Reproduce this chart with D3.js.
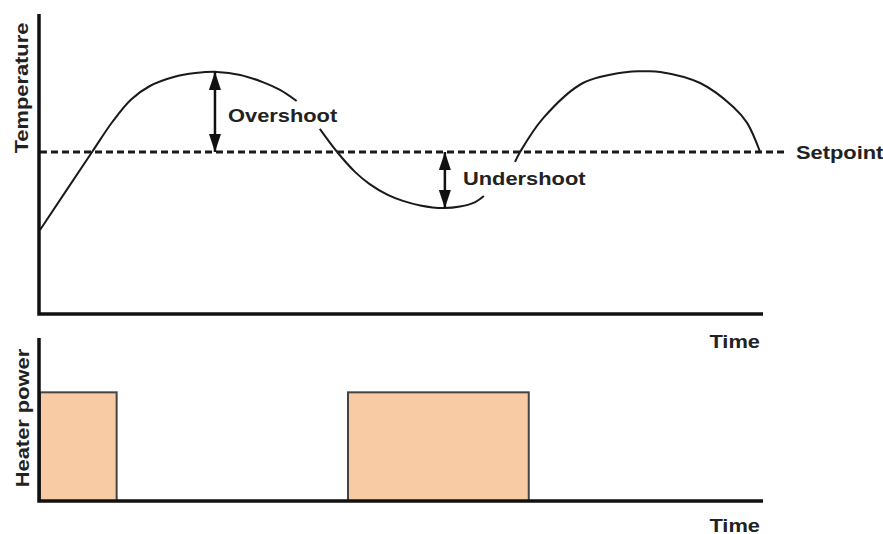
<!DOCTYPE html>
<meta charset="utf-8">
<style>
  body { margin: 0; background: #fff; }
  svg { display: block; }
  .lbl { font-family: "Liberation Sans", Arial, sans-serif; font-weight: bold; font-size: 19px; fill: #222; }
</style>
<body>
<script src="https://cdn.jsdelivr.net/npm/d3@7"></script>
<script>
  'use strict';

  // time in arbitrary units, temperature in % of full scale
  const setpoint = 54;
  const riseTime = [0, 7.2, 10, 12.6, 15.2, 18.5, 21.5, 24.5, 27.7, 30.8, 33.2, 35.5];
  const riseTemp = [28, 54, 64, 71.5, 76, 79, 80.3, 80.7, 79.7, 77.3, 74.7, 71];
  const dipTime = [38.7, 41.1, 43.6, 45.6, 48.1, 50.2, 52.6, 55.7, 58.1, 60.2, 61.4];
  const dipTemp = [61.7, 54, 47.3, 43.3, 39.7, 37.7, 36.2, 35.3, 35.8, 37.3, 39.3];
  const riseTime2 = [65.7, 66.4, 69.6, 75.1, 81.2, 83.5, 85.8, 91.3, 95.9, 97.8, 99.6];
  const riseTemp2 = [50.7, 54, 65.3, 77, 80.7, 80.9, 80.7, 77, 69, 63.7, 54];

  // heater on-intervals and power level
  const heaterOn = [0, 42.6];
  const heaterOff = [10.6, 67.6];
  const heaterPower = [1, 1];

  // annotations: [time, from, to]
  const overshoot = [24.2, setpoint, 80.7];
  const undershoot = [56, setpoint, 35.3];

  const width = 883, height = 534;
  const sx = 1.15; // labels are a little wide in the original

  const svg = d3.select("body").append("svg")
      .attr("width", width).attr("height", height);

  const x = d3.scaleLinear().domain([0, 100]).range([40, 763]);
  const yT = d3.scaleLinear().domain([0, 100]).range([314, 14]);
  const yP = d3.scaleLinear().domain([0, 1.5]).range([501, 338]);

  const defs = svg.append("defs");
  defs.append("marker")
      .attr("id", "head")
      .attr("viewBox", "0 0 18 12")
      .attr("refX", 18).attr("refY", 6)
      .attr("markerWidth", 18).attr("markerHeight", 12)
      .attr("markerUnits", "userSpaceOnUse")
      .attr("orient", "auto-start-reverse")
    .append("path")
      .attr("d", "M0,0L18,6L0,12Z")
      .attr("fill", "#111");

  function label(text, px, py, anchor, rot) {
    svg.append("text")
        .attr("class", "lbl")
        .attr("text-anchor", anchor || "start")
        .attr("transform", `translate(${px},${py})` + (rot ? ` rotate(${rot})` : "") + ` scale(${sx},1)`)
        .text(text);
  }

  // ---- top panel: temperature ----
  const line = d3.line()
      .x((d) => x(d[0]))
      .y((d) => yT(d[1]))
      .curve(d3.curveCatmullRom.alpha(0.5));

  const segs = [
    [riseTime, riseTemp],
    [dipTime, dipTemp],
    [riseTime2, riseTemp2]
  ];

  svg.append("line")
      .attr("x1", x(0)).attr("x2", 787)
      .attr("y1", yT(setpoint)).attr("y2", yT(setpoint))
      .attr("stroke", "#1a1a1a")
      .attr("stroke-width", 3)
      .attr("stroke-dasharray", "7,4");

  svg.selectAll(".temp")
    .data(segs)
    .enter().append("path")
      .attr("class", "temp")
      .attr("d", (s) => line(s[0].map((t, i) => [t, s[1][i]])))
      .attr("fill", "none")
      .attr("stroke", "#1a1a1a")
      .attr("stroke-width", 2);

  svg.selectAll(".arrow")
    .data([overshoot, undershoot])
    .enter().append("line")
      .attr("class", "arrow")
      .attr("x1", (d) => x(d[0])).attr("x2", (d) => x(d[0]))
      .attr("y1", (d) => yT(d[1])).attr("y2", (d) => yT(d[2]))
      .attr("stroke", "#111")
      .attr("stroke-width", 2.5)
      .attr("marker-start", "url(#head)")
      .attr("marker-end", "url(#head)");

  // axes as plain frame lines (no ticks in the original)
  const axisStroke = (sel) => sel.attr("stroke", "#111").attr("stroke-width", 3.5).attr("fill", "none");
  svg.append("path").attr("d", `M${x(0) - 1},${yT(100)}V${yT(0)}H${x(100)}`).call(axisStroke);

  // ---- bottom panel: heater power ----
  svg.selectAll(".bar")
    .data(heaterOn)
    .enter().append("rect")
      .attr("class", "bar")
      .attr("x", (d) => x(d))
      .attr("y", (d, i) => yP(heaterPower[i]))
      .attr("width", (d, i) => x(heaterOff[i]) - x(d))
      .attr("height", (d, i) => yP(0) - yP(heaterPower[i]))
      .attr("fill", "#f8cba5")
      .attr("stroke", "#444")
      .attr("stroke-width", 2);

  svg.append("path").attr("d", `M${x(0) - 1},${yP(1.5)}V${yP(0)}H${x(100)}`).call(axisStroke);

  // ---- text ----
  label("Overshoot", 228, 122);
  label("Undershoot", 463, 185);
  label("Setpoint", 796, 159);
  label("Time", 760, 348, "end");
  label("Time", 760, 532, "end");
  label("Temperature", 28, 88, "middle", -90);
  label("Heater power", 29, 418, "middle", -90);
</script>
